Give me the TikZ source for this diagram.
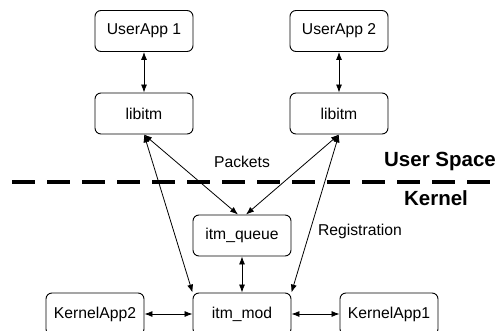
\documentclass[tikz,border=0pt]{standalone}
\usepackage{fontspec}
\setmainfont{Liberation Sans}
\usetikzlibrary{arrows.meta}
\begin{document}
\begin{tikzpicture}[x=1pt,y=-1pt,
  box/.style={draw,rounded corners=6pt,minimum width=98pt,minimum height=41pt,inner sep=0pt,font=\fontsize{15.7}{18}\selectfont,line width=0.9pt},
  conn/.style={{Latex[length=8pt,width=6pt]}-{Latex[length=8pt,width=6pt]},line width=0.8pt},
  lbl/.style={font=\fontsize{15.7}{18}\selectfont,inner sep=0pt},
  big/.style={font=\bfseries\fontsize{20.5}{24}\selectfont,inner sep=0pt}]
\useasboundingbox (0,0) rectangle (498,331);
\clip (0,0) rectangle (498,331);
\node[box] (ua1) at (144,31) {UserApp 1};
\node[box] (lib1) at (144,113.5) {libitm};
\node[box] (ua2) at (339,31) {UserApp 2};
\node[box] (lib2) at (339,113.5) {libitm};
\node[box] (queue) at (242,235.5) {itm\_queue};
\node[box,minimum height=42pt] (mod) at (242,314) {itm\_mod};
\node[box,minimum height=42pt] (ka2) at (95,314) {KernelApp2};
\node[box,minimum height=42pt] (ka1) at (389,314) {KernelApp1};
\coordinate (dl) at (12,182);
\coordinate (dr) at (500,182);
\draw[line width=4.5pt,dash pattern=on 23pt off 12pt] (dl) -- (dr);
\node[big] (us) at (440,161) {User Space};
\node[big] (kern) at (436,198) {Kernel};
\node[lbl] (pk) at (242,162) {Packets};
\node[lbl] (reg) at (360,231) {Registration};
\draw[conn] (ua1) -- (lib1);
\draw[conn] (ua2) -- (lib2);
\draw[conn] (lib1.south) -- ([xshift=-4pt]queue.north);
\draw[conn] (lib2.south) -- ([xshift=4pt]queue.north);
\draw[conn] (lib1.south) -- (mod.north west);
\draw[conn] (lib2.south) -- (mod.north east);
\draw[conn] (queue) -- (mod);
\draw[conn] (ka2) -- (mod);
\draw[conn] (mod) -- (ka1);
\end{tikzpicture}
\end{document}
